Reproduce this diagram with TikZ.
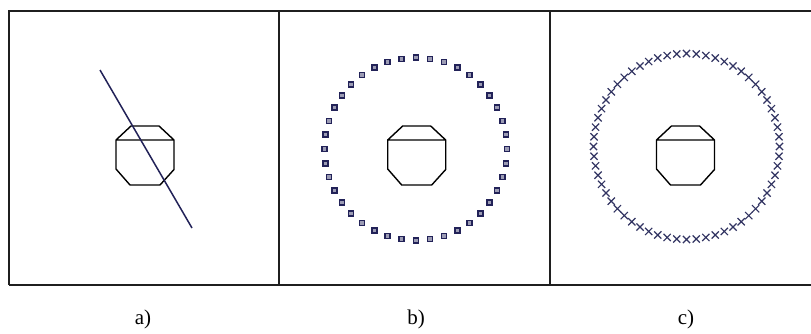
\documentclass[tikz,border=0pt]{standalone}
\usepackage{fontspec}
\setmainfont{Liberation Serif}
\definecolor{navy}{RGB}{34,34,88}
\definecolor{crossc}{RGB}{50,52,98}
\begin{document}
\begin{tikzpicture}[x=1pt,y=-1pt,
  frame/.style={line width=2pt, draw=black!88},
  octa/.style={line width=1.4pt, draw=black, line join=miter},
  cutline/.style={line width=1.5pt, draw=navy},
  sq/.style={rectangle, minimum size=5pt, inner sep=0pt, draw=navy, line width=1.5pt, fill=navy!45},
  crs/.style={line width=1.2pt, draw=crossc},
  lbl/.style={font=\fontsize{21}{24}\selectfont, inner sep=0pt}]
\useasboundingbox[fill=white] (0,0) rectangle (811,333);
% frames
\draw[frame] (9,285) -- (9,11) -- (811,11);
\draw[frame] (9,285) -- (811,285);
\draw[frame] (279,11) -- (279,285);
\draw[frame] (550,11) -- (550,285);
% octagons
\foreach \cx in {145,416.7,685.5}{
  \draw[octa,shift={(\cx,155.5)}] (-14,-29.5) -- (14,-29.5) -- (29,-15.5) -- (29,14) -- (15,29.5) -- (-15,29.5) -- (-29,13.5) -- (-29,-15.5) -- cycle
    (-29,-15.5) -- (29,-15.5);
}
% panel a line
\coordinate (l1) at (100,70);
\coordinate (l2) at (192,228);
\draw[cutline] (l1) -- (l2);
% panel b squares
\coordinate (cb) at (415.8,149);
\foreach \a in {0,9,...,351}{
  \node[sq] at ([shift={(\a:91.3)}]cb) {};
}
% panel c crosses
\foreach \a in {0,6,...,354}{
  \draw[crs,shift={(686.5,146.5)}] (\a:93) +(-3.6,-3.6) -- +(3.6,3.6) (\a:93) +(-3.6,3.6) -- +(3.6,-3.6);
}
% labels
\node[lbl] (la) at (143,319) {a)};
\node[lbl] (lb) at (416,319) {b)};
\node[lbl] (lc) at (686,319) {c)};
\end{tikzpicture}
\end{document}
